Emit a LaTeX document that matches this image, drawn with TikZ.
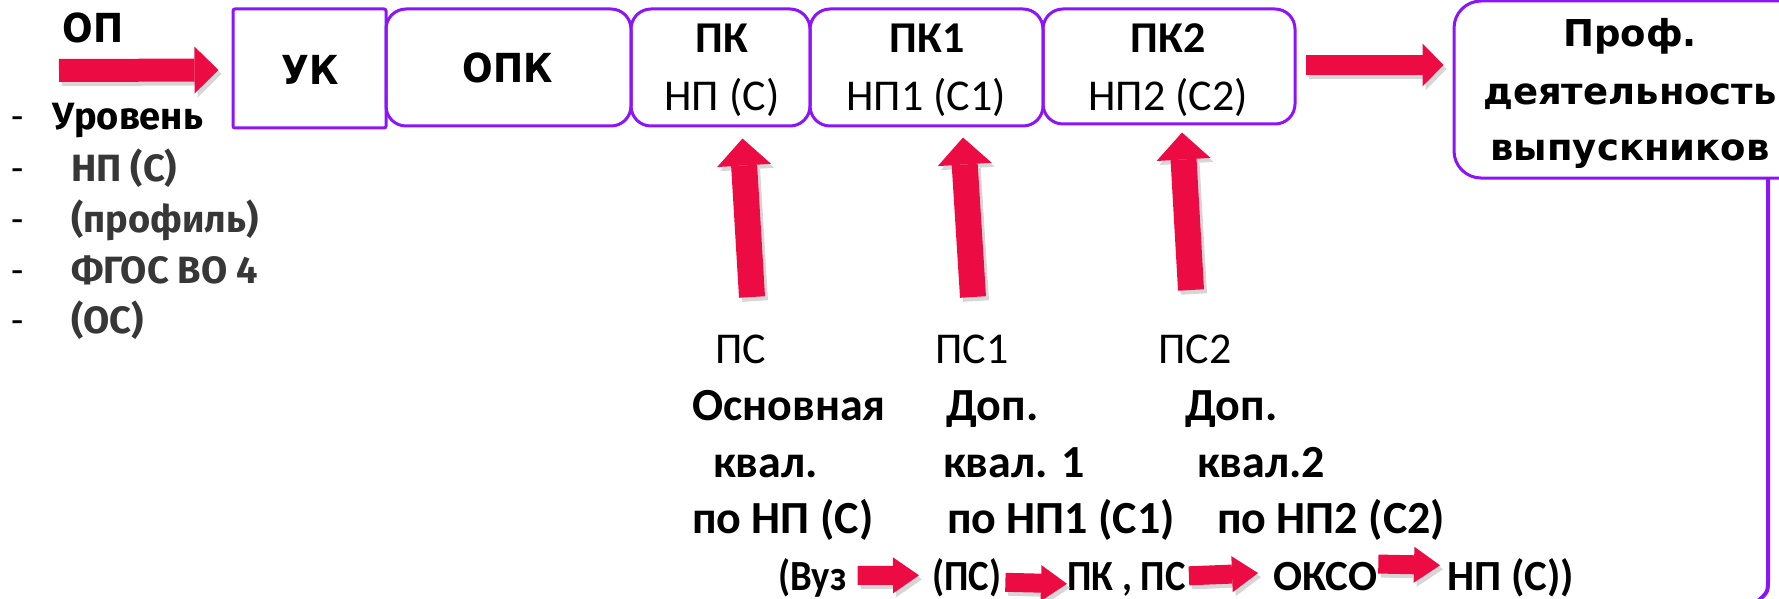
\documentclass[tikz,border=0pt]{standalone}
\usepackage{fontspec}
\setmainfont{Carlito}
\newfontfamily\condb{Carlito}[FakeStretch=0.9]
\newfontfamily\wideb{DejaVu Sans}[FakeStretch=0.9]
\newfontfamily\profb{DejaVu Sans}
\newfontfamily\listf{Fira Sans}
\usetikzlibrary{arrows.meta,calc}

\definecolor{boxviolet}{RGB}{140,20,250}
\definecolor{arrowred}{RGB}{236,12,67}
\definecolor{listgray}{RGB}{55,55,55}

\tikzset{
  plainbox/.style={draw=boxviolet, line width=3pt, rounded corners=2pt, inner sep=0pt},
  cbox/.style={draw=boxviolet, line width=3pt, rounded corners=20pt, minimum height=117pt, inner sep=0pt},
  widebold/.style={font=\wideb\bfseries\fontsize{40}{48}\selectfont, inner sep=0pt},
  boxhead/.style={font=\bfseries\fontsize{44}{53}\selectfont, inner sep=0pt},
  boxsub/.style={font=\fontsize{44}{53}\selectfont, inner sep=0pt},
  proftext/.style={font=\profb\bfseries\fontsize{37}{44}\selectfont, inner sep=0pt},
  listdash/.style={font=\fontsize{40}{48}\selectfont, inner sep=0pt},
  listitem/.style={font=\listf\bfseries\fontsize{38}{45}\selectfont, text=listgray, inner sep=0pt},
  pstext/.style={font=\fontsize{44}{53}\selectfont, inner sep=0pt},
  qualtext/.style={font=\bfseries\fontsize{46}{55}\selectfont, inner sep=0pt},
  flowtext/.style={font=\bfseries\fontsize{43}{52}\selectfont, inner sep=0pt},
  narrowflow/.style={font=\condb\bfseries\fontsize{43}{52}\selectfont, inner sep=0pt},
  % block arrows
  oparrow/.style={line width=23pt, -{Triangle[width=47pt,length=24pt,line width=0pt]}},
  uparrow/.style={line width=26pt, -{Triangle[width=54pt,length=27pt,line width=0pt]}},
  rarrow/.style={line width=20pt, -{Triangle[width=43pt,length=21pt,line width=0pt]}},
  flowarrow/.style={line width=19pt, -{Triangle[width=36pt,length=26pt,line width=0pt]}},
  redarr/.style={draw=arrowred},
  shade/.style={draw=black!16, transform canvas={shift={(3pt,-4pt)}}},
  frameline/.style={draw=boxviolet, line width=4pt}
}

\begin{document}
\begin{tikzpicture}[x=1pt,y=-1pt]
  \useasboundingbox (0,0) rectangle (1779,599);
  \clip (0,0) rectangle (1779,599);

  % competence boxes
  \node[plainbox, minimum width=153pt, minimum height=119pt] (uk) at (309.5,68.5) {};
  \node[cbox, minimum width=245pt] (opk) at (508.5,67.5) {};
  \node[cbox, minimum width=179pt] (pk) at (720.5,67.5) {};
  \node[cbox, minimum width=233pt] (pk1) at (926.5,67.5) {};
  \node[cbox, minimum width=252pt, minimum height=115pt] (pk2) at (1169,66.5) {};
  \node[cbox, minimum width=358pt, minimum height=177pt, rounded corners=27pt] (prof) at (1633,89.5) {};
  \coordinate (edge) at (1768,178);
  \draw[frameline] (edge) -- (1768,578) .. controls (1768,592) .. (1758,601);

  % box texts
  \node[widebold, anchor=base] (optxt) at (93,43) {ОП};
  \node[widebold, anchor=base] (uktxt) at (310,85) {УК};
  \node[widebold, anchor=base] (opktxt) at (508,83) {ОПК};
  \node[boxhead, anchor=base] (pkhead) at (722,53) {ПК};
  \node[boxsub, anchor=base] (pksub) at (722,111) {НП (С)};
  \node[boxhead, anchor=base] (pk1head) at (927,53) {ПК1};
  \node[boxsub, anchor=base] (pk1sub) at (926,111) {НП1 (С1)};
  \node[boxhead, anchor=base] (pk2head) at (1168,53) {ПК2};
  \node[boxsub, anchor=base] (pk2sub) at (1168,111) {НП2 (С2)};
  \node[proftext, anchor=base] (prof1) at (1630,47) {Проф.};
  \node[proftext, anchor=base] (prof2) at (1630,105) {деятельность};
  \node[proftext, anchor=base] (prof3) at (1630,160) {выпускников};

  % list under OP
  \foreach \yy [count=\i] in {130,181,232,283,333}
    \node[listdash, anchor=base west] (dash\i) at (11,\yy) {-};
  \node[listitem, text=black, anchor=base west] (level) at (52,130) {Уровень};
  \foreach \yy/\t [count=\i] in {181/{НП (С)},232/{(профиль)},283/{ФГОС ВО 4},333/{(ОС)}}
    \node[listitem, anchor=base west] (item\i) at (71,\yy) {\t};

  % standards and qualifications
  \node[pstext, anchor=base west] (ps) at (715,363) {ПС};
  \node[pstext, anchor=base west] (ps1) at (935,363) {ПС1};
  \node[pstext, anchor=base west] (ps2) at (1158,363) {ПС2};
  \node[qualtext, anchor=base west] (q1a) at (692,420) {Основная};
  \node[qualtext, anchor=base west] (q2a) at (946,420) {Доп.};
  \node[qualtext, anchor=base west] (q3a) at (1185,420) {Доп.};
  \node[qualtext, anchor=base west] (q1b) at (713,477) {квал.};
  \node[qualtext, anchor=base west] (q2b) at (943,477) {квал. 1};
  \node[qualtext, anchor=base west] (q3b) at (1197,477) {квал.2};
  \node[qualtext, anchor=base west] (q1c) at (692,533) {по НП (С)};
  \node[qualtext, anchor=base west] (q2c) at (947,533) {по НП1 (С1)};
  \node[qualtext, anchor=base west] (q3c) at (1217,533) {по НП2 (С2)};

  % bottom chain
  \node[narrowflow, anchor=base west] (vuz) at (778,590) {(Вуз};
  \node[narrowflow, anchor=base west] (psb) at (932,590) {(ПС)};
  \node[narrowflow, anchor=base west] (pkps) at (1067,590) {ПК , ПС};
  \node[flowtext, anchor=base west] (okso) at (1273,590) {ОКСО};
  \node[flowtext, anchor=base west] (npc) at (1447,590) {НП (С))};

  % arrow ends
  \coordinate (opstart) at (59,70.5);
  \coordinate (up0) at (752,297);
  \coordinate (up1) at (973,297);
  \coordinate (up2) at (1191,290);

  % arrows
  \foreach \s in {shade,redarr}{
    \draw[oparrow,\s] (opstart) -- ($(uk.west)+(-13,1.5)$);
    \draw[rarrow,\s] ($(pk2.east)+(9,-1.5)$) -- ($(prof.west)+(-9,-24.5)$);
    \draw[uparrow,\s] (up0) -- ($(pk.south)+(22,11)$);
    \draw[uparrow,\s] (up1) -- ($(pk1.south)+(36.5,10)$);
    \draw[uparrow,\s] (up2) -- ($(pk2.south)+(13,7)$);
    \draw[flowarrow,\s] ($(vuz.east)+(11,-2)$) -- ($(psb.west)+(-13,-2)$);
    \draw[flowarrow,\s] ($(psb.east)+(4,5)$) -- ($(pkps.west)+(0,5)$);
    \draw[flowarrow,\s] ($(pkps.east)+(3,-3)$) -- ($(okso.west)+(-15,-3)$);
    \draw[flowarrow,\s] ($(okso.east)+(1,-12)$) -- ($(npc.west)+(-7,-12)$);
  }
\end{tikzpicture}
\end{document}
